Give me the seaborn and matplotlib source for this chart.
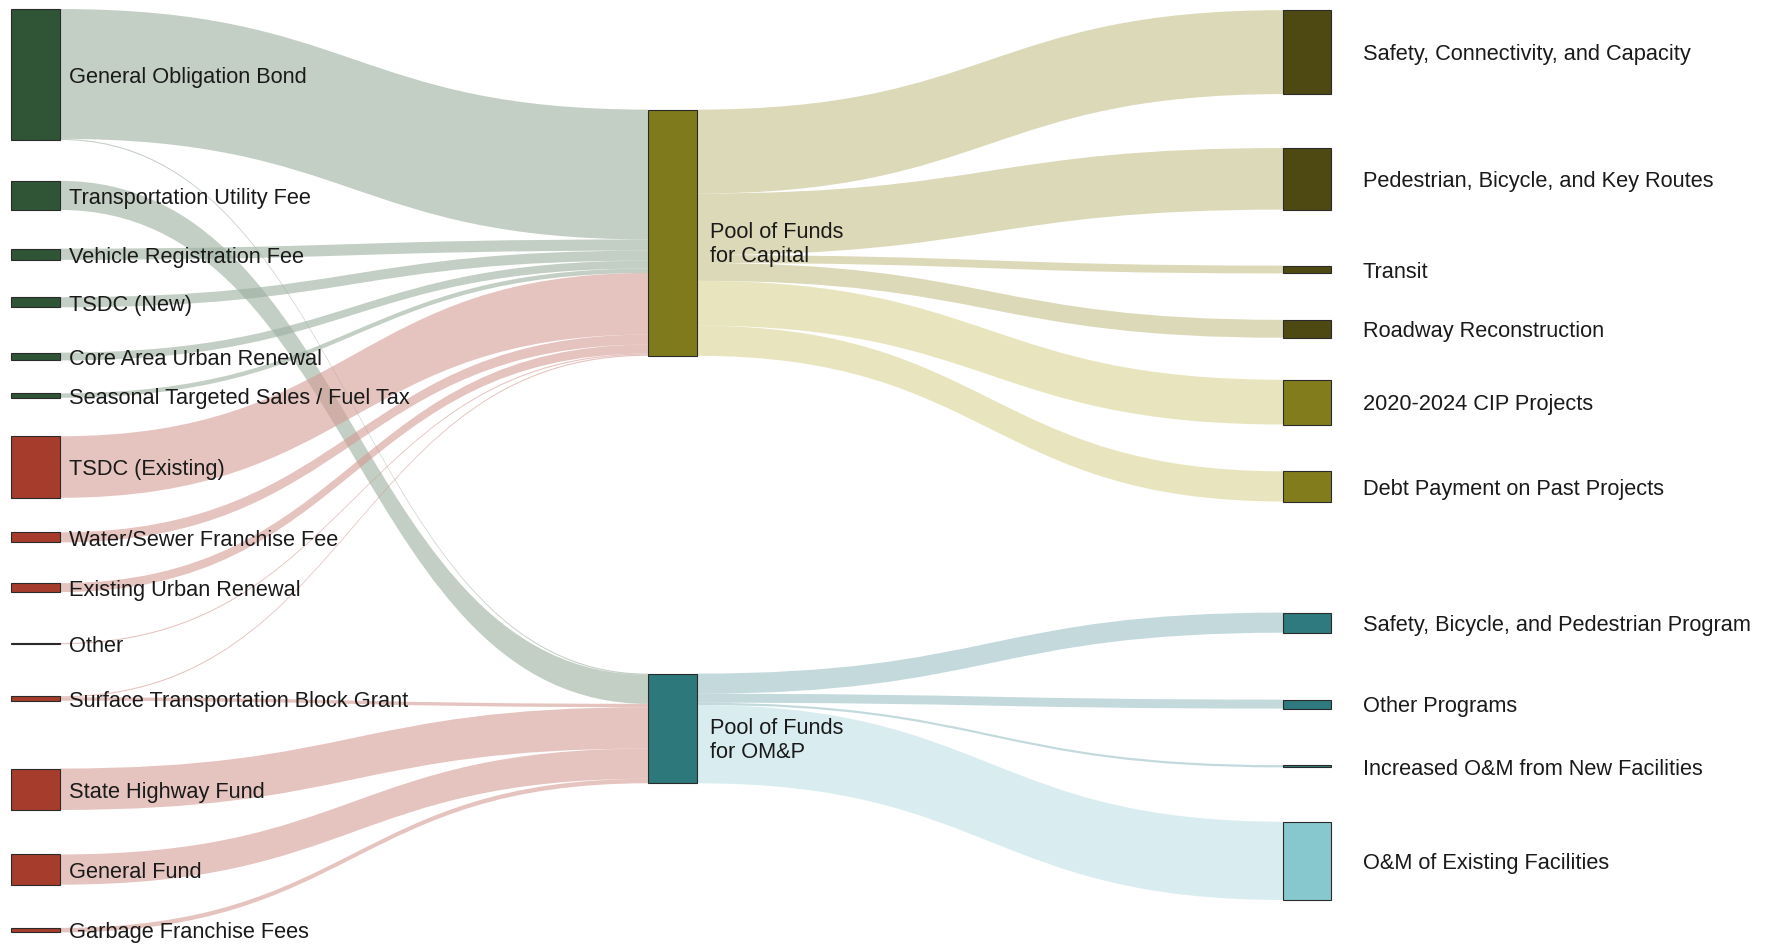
import numpy as np
import matplotlib
matplotlib.use("Agg")
import matplotlib.pyplot as plt
import seaborn as sns
from matplotlib.path import Path
from matplotlib.patches import PathPatch, Rectangle

# ---------------- data ----------------
sources = [
    "General Obligation Bond", "Transportation Utility Fee", "Vehicle Registration Fee",
    "TSDC (New)", "Core Area Urban Renewal", "Seasonal Targeted Sales / Fuel Tax",
    "TSDC (Existing)", "Water/Sewer Franchise Fee", "Existing Urban Renewal", "Other",
    "Surface Transportation Block Grant", "State Highway Fund", "General Fund",
    "Garbage Franchise Fees",
]
src_to_capital = [116, 0, 10, 9, 7, 4, 55, 9, 8, 1, 1, 0, 0, 0]
src_to_omp = [1, 26, 0, 0, 0, 0, 0, 0, 0, 0, 3, 37, 27, 4]

pools = ["Pool of Funds\nfor Capital", "Pool of Funds\nfor OM&P"]

capital_uses = [
    "Safety, Connectivity, and Capacity", "Pedestrian, Bicycle, and Key Routes",
    "Transit", "Roadway Reconstruction", "2020-2024 CIP Projects",
    "Debt Payment on Past Projects",
]
capital_use_values = [75, 55, 7, 16, 40, 27]

omp_uses = [
    "Safety, Bicycle, and Pedestrian Program", "Other Programs",
    "Increased O&M from New Facilities", "O&M of Existing Facilities",
]
omp_use_values = [18, 8, 2, 70]

# ---------------- styling / layout ----------------
GREEN, RED = "#2f5536", "#a63d2c"
CAP, OMP = "#7f7a1b", "#2d787b"
DARK_OLIVE, OLIVE = "#4e4912", "#827c1d"
TEAL, LIGHT_TEAL = "#2f7a7f", "#86c8cd"
src_colors = [GREEN] * 6 + [RED] * 8
cap_use_colors = [DARK_OLIVE] * 4 + [OLIVE] * 2
omp_use_colors = [TEAL] * 3 + [LIGHT_TEAL]
LINK_GREEN, LINK_RED = "#9baf9e", "#d49b94"
LINK_DOLIVE, LINK_OLIVE = "#c5c089", "#dad594"
LINK_TEAL, LINK_LTEAL = "#9bc1c6", "#c1e1e6"
LINK_ALPHA = 0.6

W, H = 1568, 837
VSCALE = 0.99
SRC_TOP = [8, 160, 220, 263, 312, 348, 386, 471, 516, 569, 616, 680, 756, 821]
POOL_TOP = [97, 596]
USE_TOP = [9, 131, 235, 283, 336, 417, 542, 619, 677, 727]
COLX = [(10, 53), (573, 616), (1135, 1177)]
LABEL_DX = [8, 12, 28]

sns.set_theme(style="white")
plt.rcParams["font.family"] = ["Liberation Sans", "DejaVu Sans"]

fig = plt.figure(figsize=(17.73, 9.46), dpi=100)
ax = fig.add_axes([0, 0, 1, 1])
ax.set_xlim(0, W)
ax.set_ylim(H, 0)
ax.axis("off")

# nodes: (col, top, label, color)
nodes = {}
for i, s in enumerate(sources):
    nodes[("L", i)] = dict(col=0, top=SRC_TOP[i], label=s, color=src_colors[i])
for j, p in enumerate(pools):
    nodes[("M", j)] = dict(col=1, top=POOL_TOP[j], label=p, color=[CAP, OMP][j])
uses = capital_uses + omp_uses
use_cols = cap_use_colors + omp_use_colors
for k, u in enumerate(uses):
    nodes[("R", k)] = dict(col=2, top=USE_TOP[k], label=u, color=use_cols[k])

links = []
for i in range(len(sources)):
    lc = LINK_GREEN if src_colors[i] == GREEN else LINK_RED
    if src_to_capital[i] > 0:
        links.append((("L", i), ("M", 0), src_to_capital[i], lc))
    if src_to_omp[i] > 0:
        links.append((("L", i), ("M", 1), src_to_omp[i], lc))
for k, v in enumerate(capital_use_values):
    links.append((("M", 0), ("R", k), v, LINK_DOLIVE if k < 4 else LINK_OLIVE))
for k, v in enumerate(omp_use_values):
    links.append((("M", 1), ("R", len(capital_uses) + k), v, LINK_TEAL if k < 3 else LINK_LTEAL))

# node sizes
for key in nodes:
    vin = sum(l[2] for l in links if l[1] == key)
    vout = sum(l[2] for l in links if l[0] == key)
    nodes[key]["val"] = max(vin, vout)

# offsets
out_off = {k: 0.0 for k in nodes}
in_off = {k: 0.0 for k in nodes}
geo = [[None, None] for _ in links]
for n in sorted(range(len(links)), key=lambda n: nodes[links[n][1]]["top"]):
    s = links[n][0]
    geo[n][0] = nodes[s]["top"] + out_off[s]
    out_off[s] += links[n][2] * VSCALE
for n in sorted(range(len(links)), key=lambda n: nodes[links[n][0]]["top"]):
    t = links[n][1]
    geo[n][1] = nodes[t]["top"] + in_off[t]
    in_off[t] += links[n][2] * VSCALE

# draw links
for n, (s, t, v, c) in enumerate(links):
    x0 = COLX[nodes[s]["col"]][1]
    x1 = COLX[nodes[t]["col"]][0]
    xm = (x0 + x1) / 2
    y0, y1 = geo[n]
    h = v * VSCALE
    verts = [(x0, y0), (xm, y0), (xm, y1), (x1, y1),
             (x1, y1 + h), (xm, y1 + h), (xm, y0 + h), (x0, y0 + h), (x0, y0)]
    codes = [Path.MOVETO, Path.CURVE4, Path.CURVE4, Path.CURVE4,
             Path.LINETO, Path.CURVE4, Path.CURVE4, Path.CURVE4, Path.CLOSEPOLY]
    ax.add_patch(PathPatch(Path(verts, codes), facecolor=c, alpha=LINK_ALPHA,
                           edgecolor="none", zorder=1))

# draw nodes and labels
for key, nd in nodes.items():
    x0, x1 = COLX[nd["col"]]
    hh = nd["val"] * VSCALE
    ax.add_patch(Rectangle((x0, nd["top"]), x1 - x0, hh, facecolor=nd["color"],
                           edgecolor="#2a2a2a", linewidth=0.8, zorder=3))
    cy = nd["top"] + hh / 2
    if nd["col"] == 1:
        cy += 8
    ax.text(x1 + LABEL_DX[nd["col"]], cy + 2.5, nd["label"], ha="left", va="center",
            fontsize=15.7, color="#1a1a1a", zorder=4, linespacing=1.15)

fig.savefig("out.png", dpi=100, facecolor="white")
